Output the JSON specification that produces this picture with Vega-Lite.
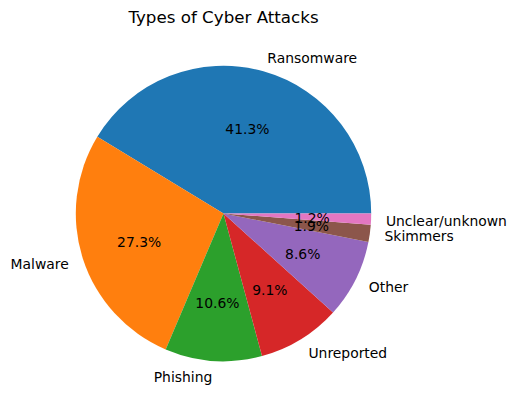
{
  "$schema": "https://vega.github.io/schema/vega-lite/v6.json",
  "autosize": {"type": "none"},
  "width": 447,
  "height": 347,
  "padding": {"left": 0, "top": 40, "right": 69, "bottom": 22},
  "background": "white",
  "title": {"text": "Types of Cyber Attacks", "font": "DejaVu Sans", "fontSize": 16.7, "fontWeight": "normal", "color": "black", "anchor": "middle", "frame": "group", "offset": 0, "baseline": "alphabetic"},
  "config": {"view": {"stroke": null}},
  "data": {"values": [
    {"label": "Ransomware", "share": 41.3},
    {"label": "Malware", "share": 27.3},
    {"label": "Phishing", "share": 10.6},
    {"label": "Unreported", "share": 9.1},
    {"label": "Other", "share": 8.6},
    {"label": "Skimmers", "share": 1.9},
    {"label": "Unclear/unknown", "share": 1.2}
  ]},
  "transform": [
    {"window": [{"op": "row_number", "as": "i"}]},
    {"calculate": "format(datum.share, '.1f') + '%'", "as": "pct"}
  ],
  "encoding": {
    "theta": {"field": "share", "type": "quantitative", "stack": true, "scale": {"range": [1.5707963, -4.712389]}},
    "order": {"field": "i", "type": "quantitative"}
  },
  "layer": [
    {
      "mark": {"type": "arc", "outerRadius": 147.7},
      "encoding": {
        "color": {"field": "label", "type": "nominal", "legend": null, "sort": null,
          "scale": {"domain": ["Ransomware", "Malware", "Phishing", "Unreported", "Other", "Skimmers", "Unclear/unknown"],
                    "range": ["#1f77b4", "#ff7f0e", "#2ca02c", "#d62728", "#9467bd", "#8c564b", "#e377c2"]}}
      }
    },
    {
      "mark": {"type": "text", "radius": 88.6, "font": "DejaVu Sans", "fontSize": 13.9, "color": "black", "align": "center", "baseline": "middle", "dy": 2},
      "encoding": {"text": {"field": "pct"}}
    },
    {
      "mark": {"type": "text", "radius": 162.5, "font": "DejaVu Sans", "fontSize": 13.9, "color": "black", "align": "left", "baseline": "middle", "dy": 2},
      "encoding": {"text": {"condition": {"test": "datum.label != 'Malware' && datum.label != 'Phishing'", "field": "label"}, "value": ""}}
    },
    {
      "mark": {"type": "text", "radius": 162.5, "font": "DejaVu Sans", "fontSize": 13.9, "color": "black", "align": "right", "baseline": "middle", "dy": 2},
      "encoding": {"text": {"condition": {"test": "datum.label == 'Malware' || datum.label == 'Phishing'", "field": "label"}, "value": ""}}
    }
  ]
}
